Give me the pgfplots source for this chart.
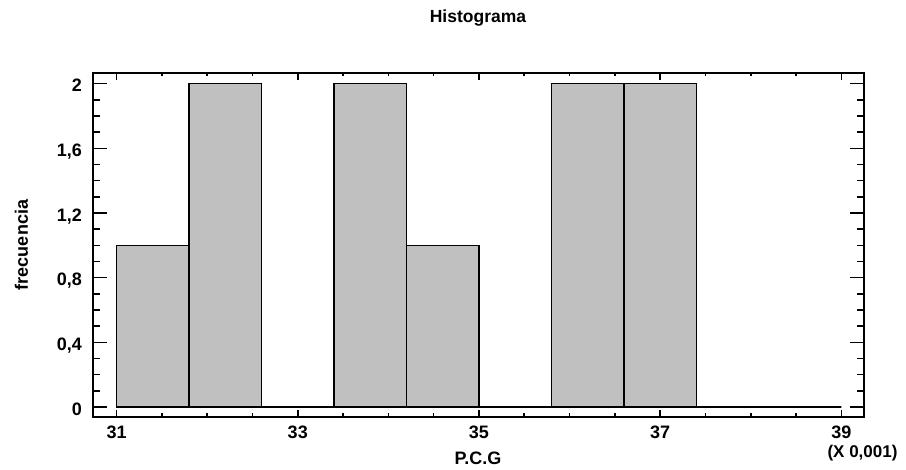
\documentclass[border=0pt]{standalone}
\usepackage{fontspec}
\setmainfont{Liberation Sans}
\usepackage{pgfplots}
\pgfplotsset{compat=1.18}
\definecolor{barfill}{RGB}{192,192,192}
\begin{document}
\begin{tikzpicture}[x=1pt,y=1pt]
\useasboundingbox (-93,-53) rectangle (813,417);
\begin{axis}[
  at={(0,0)}, anchor=south west,
  scale only axis, width=771pt, height=344pt,
  xmin=30.74, xmax=39.25, ymin=-0.062, ymax=2.066,
  xtick={31,33,35,37,39}, minor x tick num=3,
  ytick={0,0.4,0.8,1.2,1.6,2}, minor y tick num=3,
  tick align=inside,
  axis line style={line width=2.2pt},
  every tick/.style={black, line width=1.6pt},
  x tick style={/pgfplots/major tick length=7pt,/pgfplots/minor tick length=3.5pt},
  y tick style={/pgfplots/major tick length=14pt,/pgfplots/minor tick length=7pt},
  /pgf/number format/assume math mode=true,
  /pgf/number format/use comma,
  /pgf/number format/fixed,
  /pgf/number format/1000 sep={},
  xticklabel style={font=\fontsize{18}{21}\selectfont\bfseries, inner sep=0pt, anchor=base, yshift=-22pt},
  yticklabel style={font=\fontsize{18}{21}\selectfont\bfseries, inner sep=0pt, anchor=base east, xshift=-11pt, yshift=-8.3pt},
  clip=false,
]
\addplot[ybar interval, fill=barfill, draw=black, line width=1.2pt] coordinates {
  (31.0,1) (31.8,2) (32.6,0) (33.4,2) (34.2,1) (35.0,0) (35.8,2) (36.6,2) (37.4,0) (38.2,0) (39.0,0)
};
\end{axis}
\node[anchor=base, font=\fontsize{17.5}{20}\selectfont\bfseries] at (385,394) {Histograma};
\node[anchor=base, font=\fontsize{18}{21}\selectfont\bfseries] at (385,-48) {P.C.G};
\node[anchor=base, font=\fontsize{17}{20}\selectfont\bfseries] at (769.5,-40.5) {(X 0,001)};
\node[anchor=base, rotate=90, font=\fontsize{18}{21}\selectfont\bfseries] at (-65,172) {frecuencia};
\end{tikzpicture}
\end{document}
